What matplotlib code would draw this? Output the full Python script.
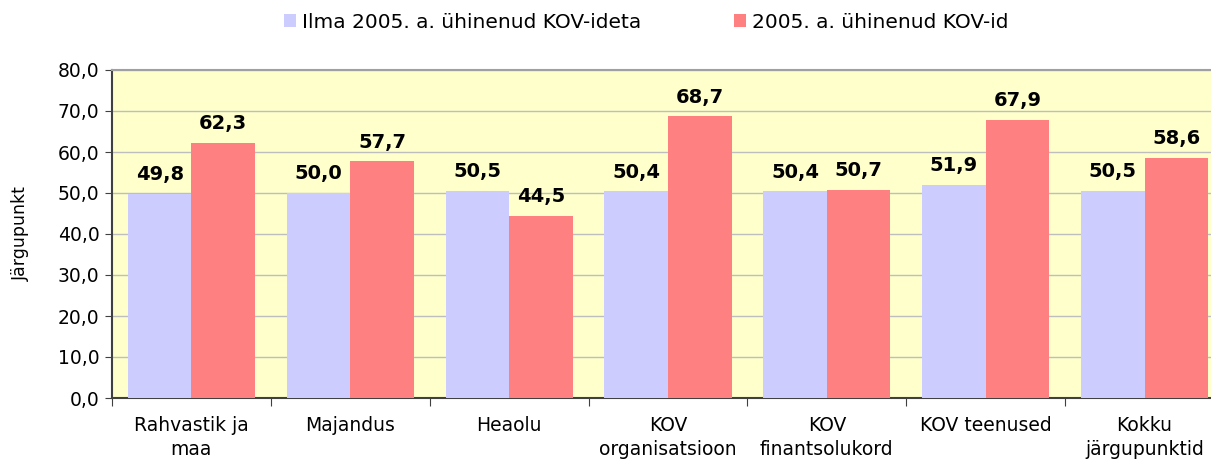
import numpy as np
import matplotlib
matplotlib.use("Agg")
import matplotlib.pyplot as plt
from matplotlib.ticker import FuncFormatter, FixedLocator

categories = ["Rahvastik ja\nmaa", "Majandus", "Heaolu", "KOV\norganisatsioon",
              "KOV\nfinantsolukord", "KOV teenused", "Kokku\njärgupunktid"]
series_names = ["Ilma 2005. a. ühinenud KOV-ideta", "2005. a. ühinenud KOV-id"]
ilma = [49.8, 50.0, 50.5, 50.4, 50.4, 51.9, 50.5]
uhinenud = [62.3, 57.7, 44.5, 68.7, 50.7, 67.9, 58.6]
colors = ["#CCCCFF", "#FF8080"]

plt.rcParams['font.family'] = ['DejaVu Sans']

fig = plt.figure(figsize=(12.11, 4.63), dpi=100)
ax = fig.add_axes([112/1211, 65/463, 1112/1211, 328/463])
ax.set_facecolor("#FFFFCC")

x = np.arange(len(categories))
w = 0.4
b1 = ax.bar(x - w/2, ilma, w, color=colors[0], label=series_names[0], zorder=3)
b2 = ax.bar(x + w/2, uhinenud, w, color=colors[1], label=series_names[1], zorder=3)

def fmt(v):
    return f"{v:.1f}".replace(".", ",")

for bars, vals in ((b1, ilma), (b2, uhinenud)):
    for r, v in zip(bars, vals):
        ax.annotate(fmt(v), (r.get_x() + r.get_width()/2, v), xytext=(0, 7),
                    textcoords="offset points", ha="center", va="bottom",
                    fontsize=14, fontweight="bold", zorder=4)

ax.set_xlim(-0.5, len(categories) - 0.5)
ax.set_ylim(0, 80)
ax.set_yticks(np.arange(0, 81, 10))
ax.yaxis.set_major_formatter(FuncFormatter(lambda v, p: fmt(v)))
ax.grid(axis="y", color="#BEBEBE", linewidth=1, zorder=0)
ax.set_axisbelow(True)

ax.xaxis.set_major_locator(FixedLocator(np.arange(-0.5, len(categories), 1)))
ax.xaxis.set_minor_locator(FixedLocator(x))
ax.set_xticklabels([])
ax.set_xticklabels(categories, minor=True, fontsize=13.5, linespacing=1.3)
ax.tick_params(axis="x", which="major", length=6, color="#404040", direction="out")
ax.tick_params(axis="x", which="minor", length=0, pad=13)
ax.tick_params(axis="y", length=5, color="#404040", labelsize=13.5, pad=4)

for s in ("left", "bottom"):
    ax.spines[s].set_color("#404040")
    ax.spines[s].set_linewidth(1.5)
ax.spines["top"].set_color("#A0A0A0")
ax.spines["top"].set_linewidth(1.5)
ax.spines["right"].set_visible(False)

ax.set_ylabel("Järgupunkt", fontsize=12.5, labelpad=20)

fig.legend(loc="center", bbox_to_anchor=(0.5334, 0.952), ncol=2, frameon=False,
           fontsize=14.5, handlelength=0.6, handleheight=0.6, handletextpad=0.3,
           columnspacing=4.6)

fig.savefig("out.png", dpi=100)
